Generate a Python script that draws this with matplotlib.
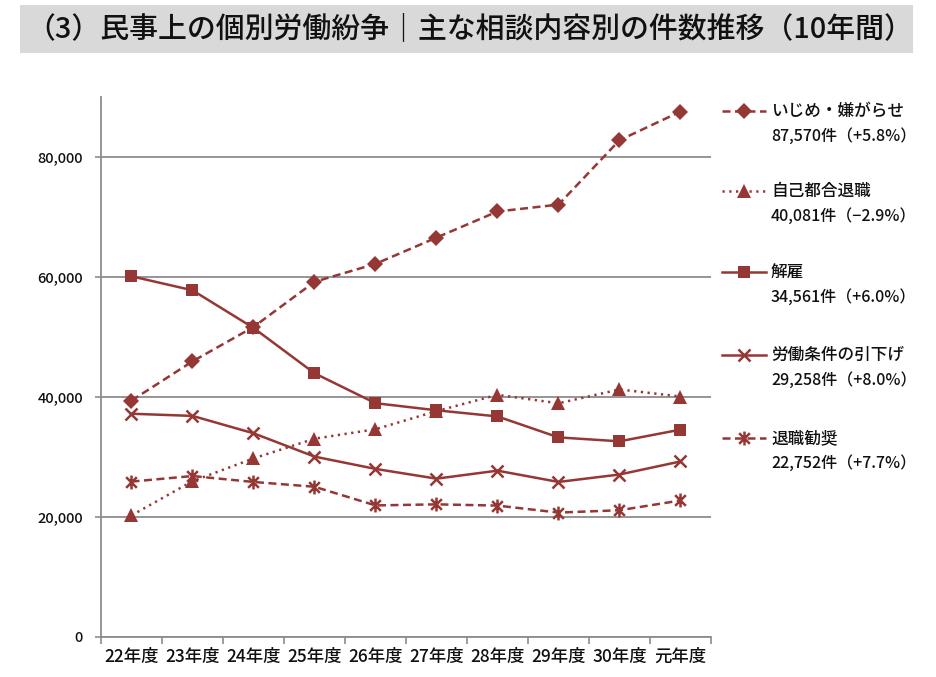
import matplotlib
matplotlib.use("Agg")
import matplotlib.pyplot as plt
from matplotlib.lines import Line2D
from matplotlib.path import Path
from matplotlib.patches import Rectangle
import matplotlib.ticker as mticker

plt.rcParams['font.family'] = ['Noto Sans CJK JP', 'DejaVu Sans']

categories = ["22年度", "23年度", "24年度", "25年度", "26年度", "27年度", "28年度", "29年度", "30年度", "元年度"]
ijime = [39405, 45939, 51670, 59197, 62191, 66566, 70917, 72067, 82797, 87570]
jiko = [20265, 25966, 29763, 33049, 34626, 37648, 40364, 38954, 41258, 40081]
kaiko = [60118, 57785, 51515, 43956, 38966, 37787, 36760, 33269, 32614, 34561]
hikisage = [37210, 36849, 33955, 30067, 28015, 26392, 27723, 25841, 27082, 29258]
kansho = [25902, 26828, 25838, 25041, 21928, 22110, 21901, 20736, 21125, 22752]

names = ["いじめ・嫌がらせ", "自己都合退職", "解雇", "労働条件の引下げ", "退職勧奨"]
counts = ["87,570件（+5.8%）", "40,081件（−2.9%）", "34,561件（+6.0%）", "29,258件（+8.0%）", "22,752件（+7.7%）"]
yticks = [0, 20000, 40000, 60000, 80000]
title = "（3）民事上の個別労働紛争｜主な相談内容別の件数推移（10年間）"

RED = "#953735"
GRID = "#8c8c8c"
TXT = "#111111"

asterisk = Path([(-1, -1), (1, 1), (-1, 1), (1, -1), (0, -1.3), (0, 1.3)],
                [Path.MOVETO, Path.LINETO, Path.MOVETO, Path.LINETO, Path.MOVETO, Path.LINETO])

styles = [
    dict(ls=(0, (3.2, 1.8)), marker='D', ms=8.5, mew=0),
    dict(ls=(0, (0.9, 1.8)), marker='^', ms=10, mew=0),
    dict(ls='-', marker='s', ms=8, mew=0),
    dict(ls='-', marker='x', ms=8, mew=1.8),
    dict(ls=(0, (3.2, 1.8)), marker=asterisk, ms=10, mew=1.8),
]
series = [ijime, jiko, kaiko, hikisage, kansho]

fig = plt.figure(figsize=(9.37, 6.77), dpi=100)
ax = fig.add_axes([101/937, 1-637/677, (711-101)/937, (637-97)/677])

x = list(range(len(categories)))
for data, st in zip(series, styles):
    ax.plot(x, data, color=RED, lw=1.8, linestyle=st['ls'], marker=st['marker'],
            markersize=st['ms'], markeredgewidth=st['mew'], markerfacecolor=RED,
            markeredgecolor=RED, zorder=3, clip_on=False)

ax.set_xlim(-0.5, len(categories) - 0.5)
ax.set_ylim(0, 90000)
ax.set_yticks(yticks)
ax.yaxis.set_major_formatter(mticker.FuncFormatter(lambda v, p: f"{int(v):,}"))
ax.set_xticks(x)
ax.set_xticklabels(categories, fontsize=12.5, fontweight='medium', color=TXT)
ax.set_xticks([i - 0.5 for i in range(len(categories) + 1)], minor=True)
ax.tick_params(axis='x', which='major', length=0, pad=8)
ax.tick_params(axis='x', which='minor', length=5, color=GRID, width=1.2)
ax.tick_params(axis='y', length=4, color=GRID, width=1.2, labelsize=10.5, pad=9, labelcolor=TXT)
for lab in ax.get_yticklabels():
    lab.set_fontweight('medium')
ax.grid(axis='y', color=GRID, lw=1.3, zorder=0)
ax.set_axisbelow(True)
for s in ['top', 'right']:
    ax.spines[s].set_visible(False)
for s in ['left', 'bottom']:
    ax.spines[s].set_color(GRID)
    ax.spines[s].set_linewidth(1.3)

# Title banner
fig.add_artist(Rectangle((20/937, 1-53/677), (913-20)/937, 48/677, transform=fig.transFigure,
                         facecolor="#d9d9d9", edgecolor='none', zorder=0))
fig.text(470/937, 1-29/677, title, ha='center', va='center', fontsize=20.8,
         fontweight='medium', color=TXT)

# Legend (manual)
leg_y = [111, 191, 272, 355, 438]
for yy, st, nm, ct in zip(leg_y, styles, names, counts):
    fy = 1 - yy/677
    ln = Line2D([722/937, 766/937], [fy, fy], transform=fig.transFigure, color=RED, lw=1.8,
                linestyle=st['ls'])
    fig.add_artist(ln)
    mk = Line2D([744/937], [fy], transform=fig.transFigure, color=RED, marker=st['marker'],
                markersize=st['ms'], markeredgewidth=st['mew'], markerfacecolor=RED,
                markeredgecolor=RED, linestyle='none')
    fig.add_artist(mk)
    fig.text(771/937, fy, nm, ha='left', va='center', fontsize=12, fontweight='medium', color=TXT)
    fig.text(771/937, 1-(yy+25)/677, ct, ha='left', va='center', fontsize=11.5,
             fontweight='medium', color=TXT)

fig.savefig("out.png", dpi=100)
